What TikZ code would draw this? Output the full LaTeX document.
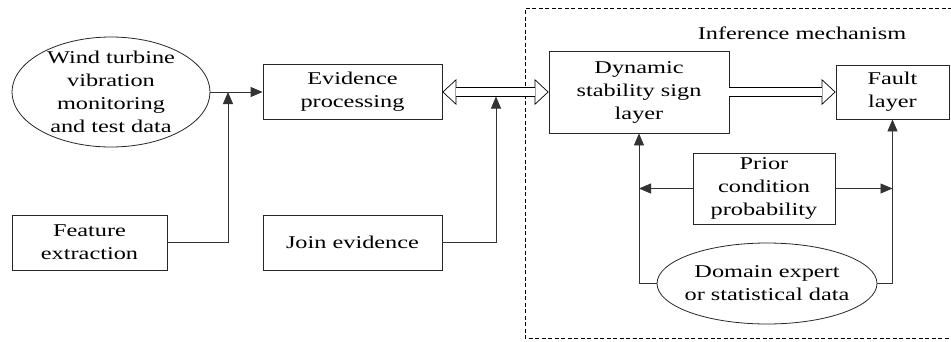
\documentclass[tikz,border=0pt]{standalone}
\usepackage{fontspec}
\setmainfont{Liberation Serif}[FakeStretch=1.35]
\usetikzlibrary{shapes,arrows.meta,positioning,calc}

\tikzset{
  box/.style={draw=black!85, line width=0.8pt, align=center, inner sep=0pt},
  oval/.style={ellipse, draw=black!85, line width=0.8pt, inner sep=0pt},
  link/.style={draw=black!80, line width=0.8pt, -{Triangle[length=12pt,width=10pt]}},
  hollowtip/.tip={Triangle[length=14pt,width=26pt,line width=0.7pt,fill=white]},
  hollowbase/.style={line width=0.7pt},
  hollow/.style={double, double distance=8pt, line width=0.7pt},
}

\begin{document}
\begin{tikzpicture}[x=1pt,y=-1pt,font=\fontsize{18}{23}\selectfont]
  \useasboundingbox (0,0) rectangle (951,341);
  \draw[dash pattern=on 4pt off 2.5pt, line width=0.7pt] (952,8) -- (525,8) -- (525,338) -- (952,338);
  \node (infer) at (802,33) {Inference mechanism};

  \node[oval, minimum width=198pt, minimum height=110pt,
        label={[align=center]center:{Wind turbine\\vibration\\monitoring\\and test data}}] (wind) at (111,92) {};
  \node[box, minimum width=179pt, minimum height=55pt] (evid) at (352.5,92) {Evidence\\processing};
  \node[box, minimum width=155pt, minimum height=55pt] (feat) at (89.5,242.5) {Feature\\extraction};
  \node[box, minimum width=179pt, minimum height=55pt] (join) at (352.5,242.5) {Join evidence};
  \node[box, minimum width=180pt, minimum height=82pt] (dyn) at (639,92) {Dynamic\\stability sign\\layer};
  \node[box, minimum width=113pt, minimum height=54pt] (fault) at (892.5,92) {Fault\\layer};
  \node[box, minimum width=142pt, minimum height=71pt] (prior) at (764,188.5) {Prior\\condition\\probability};
  \node[oval, minimum width=220pt, minimum height=81pt,
        label={[align=center]center:{Domain expert\\or statistical data}}] (domain) at (767,283.5) {};

  \coordinate (j1) at (228,92);
  \coordinate (j2) at (496,96.5);

  \draw[hollowbase, hollowtip-hollowtip] (evid.east) -- (dyn.west);
  \draw[hollow, shorten <=13.6pt, shorten >=13.6pt] (evid.east) -- (dyn.west);
  \draw[hollowbase, -hollowtip] (dyn.east) -- (fault.west);
  \draw[hollow, shorten >=13.6pt] (dyn.east) -- (fault.west);

  \draw[link] (wind.east) -- (evid.west);
  \draw[link] (feat.east) -| (j1);
  \draw[link] (join.east) -| (j2);
  \draw[link] (prior.west) -- (prior.west -| dyn.south);
  \draw[link] (prior.east) -- (prior.east -| fault.south);
  \draw[link] (domain.west) -| (dyn.south);
  \draw[link] (domain.east) -| (fault.south);
\end{tikzpicture}
\end{document}
